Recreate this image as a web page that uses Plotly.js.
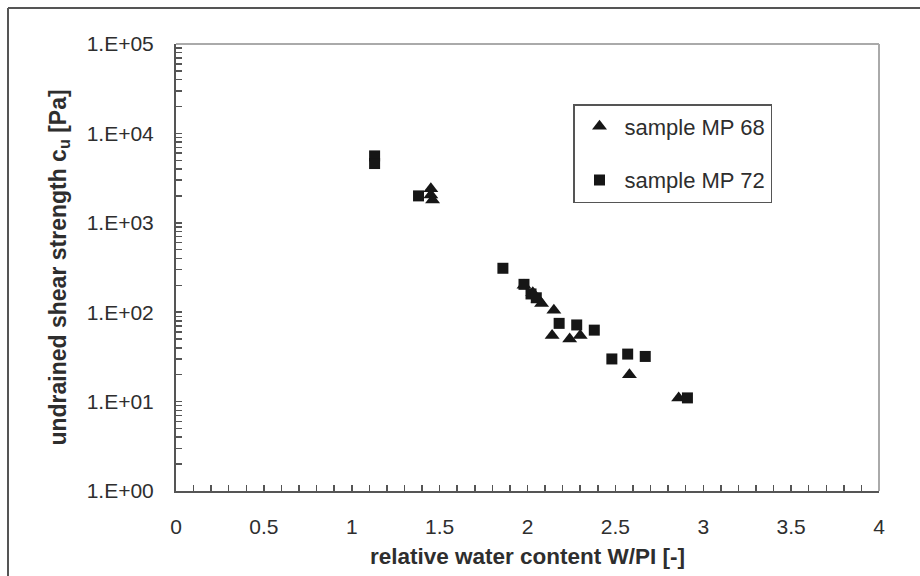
<!DOCTYPE html>
<html>
<head>
<meta charset="utf-8">
<script src="https://cdn.plot.ly/plotly-3.0.1.min.js"></script>
<style>html,body{margin:0;padding:0;background:#fff;}#chart{width:920px;height:576px;}</style>
</head>
<body>
<div id="chart"></div>
<script>
// Sample MP 68 (triangles)
const mp68_x = [1.45, 1.45, 1.46, 1.98, 2.03, 2.06, 2.08, 2.15, 2.14, 2.24, 2.30, 2.58, 2.86];
const mp68_y = [2400, 2050, 1800, 200, 165, 140, 125, 105, 55, 50, 55, 20, 11];
// Sample MP 72 (squares)
const mp72_x = [1.13, 1.13, 1.38, 1.86, 1.98, 2.02, 2.05, 2.18, 2.28, 2.38, 2.48, 2.57, 2.67, 2.91];
const mp72_y = [5600, 4600, 2000, 310, 205, 160, 145, 75, 72, 63, 30, 34, 32, 11];

// tick labels
const xTickVals = [0, 0.5, 1, 1.5, 2, 2.5, 3, 3.5, 4];
const xTickText = ['0', '0.5', '1', '1.5', '2', '2.5', '3', '3.5', '4'];
const yTickVals = [1, 10, 100, 1000, 10000, 100000];
const yTickText = ['1.E+00', '1.E+01', '1.E+02', '1.E+03', '1.E+04', '1.E+05'];

const textColor = '#2e2e2e';
const traces = [
  {
    x: mp68_x, y: mp68_y, name: 'sample MP 68', type: 'scatter', mode: 'markers',
    legendgroup: 'a',
    marker: {symbol: 'triangle-up', size: 13, color: '#161616'}
  },
  {
    x: mp72_x, y: mp72_y, name: 'sample MP 72', type: 'scatter', mode: 'markers',
    legendgroup: 'b',
    marker: {symbol: 'square', size: 11, color: '#161616'}
  }
];

const L = 176, R = 879, T = 44, B = 491;
const px2x = p => (p - L) / (R - L);
const px2y = p => (B - p) / (B - T);

const layout = {
  width: 920, height: 576,
  margin: {l: L, r: 920 - R, t: T, b: 576 - B, pad: 0},
  paper_bgcolor: '#ffffff', plot_bgcolor: '#ffffff',
  font: {family: 'Liberation Sans, Arial, sans-serif', color: textColor, size: 21},
  showlegend: true,
  legend: {
    x: px2x(573), y: px2y(104), xanchor: 'left', yanchor: 'top',
    bgcolor: '#ffffff', bordercolor: '#555555', borderwidth: 1.5,
    font: {size: 22, color: textColor},
    traceorder: 'grouped', tracegroupgap: 22,
    itemwidth: 40
  },
  xaxis: {
    range: [0, 4], showgrid: false, zeroline: false,
    showline: true, linecolor: '#555555', linewidth: 2,
    tickmode: 'array', tickvals: xTickVals, ticktext: xTickText,
    ticks: 'inside', ticklen: 6, tickwidth: 1.5, tickcolor: '#555555',
    minor: {dtick: 0.1, tick0: 0, ticks: 'inside', ticklen: 6, tickwidth: 1.5, tickcolor: '#555555', showgrid: false},
    ticklabelstandoff: 16,
    tickfont: {size: 21, color: textColor},
    title: {text: '<b>relative water content W/PI [-]</b>', font: {size: 22.5, color: textColor}, standoff: 11}
  },
  yaxis: {
    type: 'log', range: [0, 5], showgrid: false, zeroline: false,
    showline: true, linecolor: '#555555', linewidth: 2,
    tickmode: 'array', tickvals: yTickVals, ticktext: yTickText,
    ticks: 'inside', ticklen: 6, tickwidth: 1.5, tickcolor: '#555555',
    minor: {dtick: 'D1', ticks: 'inside', ticklen: 6, tickwidth: 1.5, tickcolor: '#555555', showgrid: false},
    ticklabelstandoff: 16,
    tickfont: {size: 21, color: textColor},
    title: {text: '<b>undrained shear strength c<sub>u</sub> [Pa]</b>', font: {size: 23, color: textColor}, standoff: 14}
  },
  shapes: [
    // light plot frame top & right
    {type: 'line', xref: 'paper', yref: 'paper', x0: 0, x1: 1, y0: 1, y1: 1, line: {color: '#aaaaaa', width: 2}},
    {type: 'line', xref: 'paper', yref: 'paper', x0: 1, x1: 1, y0: 0, y1: 1, line: {color: '#aaaaaa', width: 2}},
    // outer figure frame (left & top)
    {type: 'line', xref: 'paper', yref: 'paper', x0: px2x(8), x1: px2x(8), y0: px2y(8), y1: px2y(576), line: {color: '#555555', width: 2}},
    {type: 'line', xref: 'paper', yref: 'paper', x0: px2x(8), x1: px2x(920), y0: px2y(8), y1: px2y(8), line: {color: '#555555', width: 2}}
  ]
};

Plotly.newPlot('chart', traces, layout, {displayModeBar: false, staticPlot: true});
</script>
</body>
</html>
